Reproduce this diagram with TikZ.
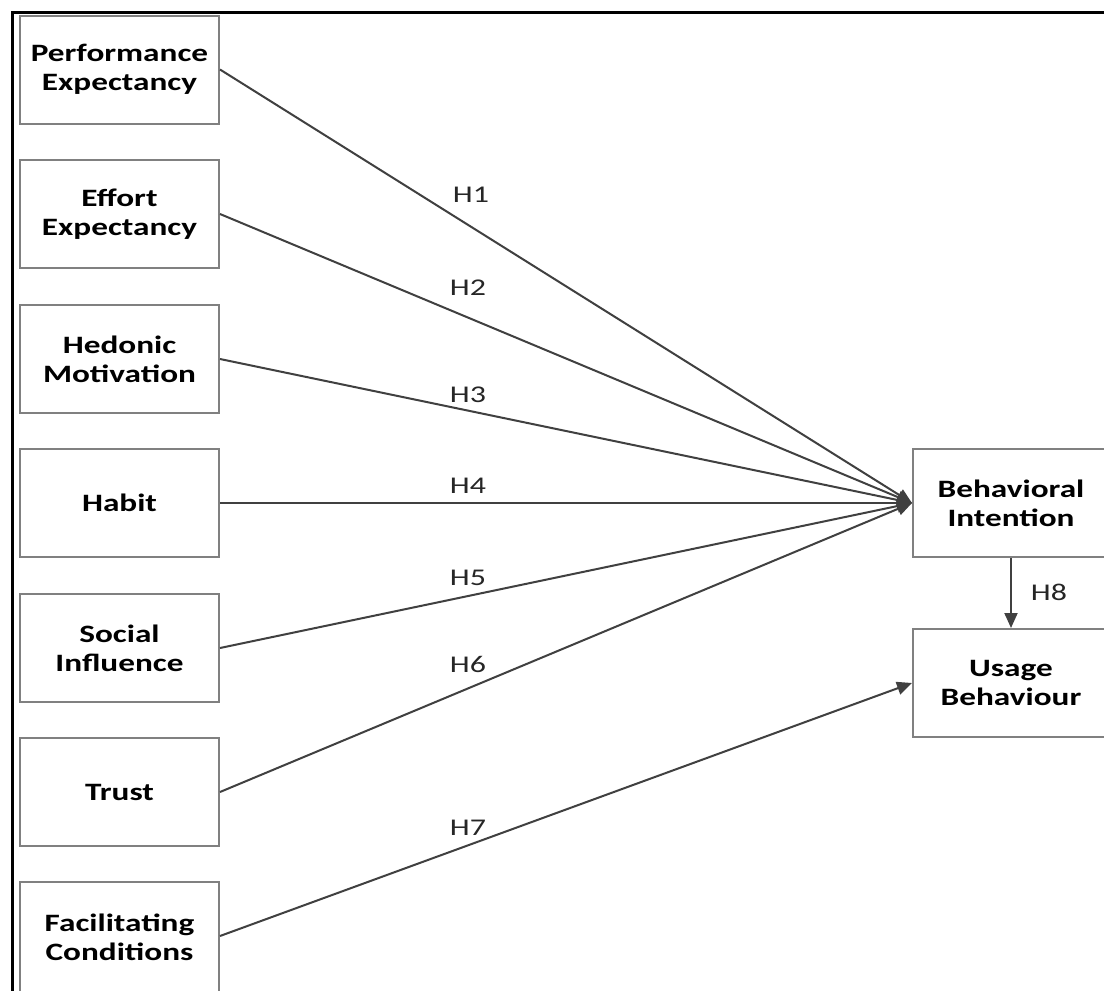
\documentclass[tikz,border=0pt]{standalone}
\usepackage{fontspec}
\setmainfont{Carlito}[FakeStretch=1.33]
\usetikzlibrary{arrows.meta}
\definecolor{boxgray}{HTML}{808080}
\definecolor{linegray}{HTML}{404040}
\begin{document}
\begin{tikzpicture}[x=1pt,y=-1pt,
  cbox/.style={draw=boxgray,line width=2pt,fill=white,minimum width=199pt,minimum height=108pt,
    align=center,inner sep=0pt,font=\fontsize{25}{29}\selectfont\bfseries,text=black},
  rbox/.style={cbox,minimum width=196pt},
  conn/.style={draw=linegray,line width=2pt,-{Triangle[length=15pt,width=13pt]}},
  hlab/.style={font=\fontsize{24}{28}\selectfont,text=black!85,inner sep=0pt}]
\useasboundingbox (0,0) rectangle (1104,991);
\fill[white] (0,0) rectangle (1104,991);
% outer frame
\draw[black,line width=3pt] (12,995) -- (12,12) -- (1110,12);
% left boxes
\node[cbox] (pe) at (119.5,69.5) {Performance\\Expectancy};
\node[cbox] (ee) at (119.5,214) {Effort\\Expectancy};
\node[cbox] (hm) at (119.5,359) {Hedonic\\Motivation};
\node[cbox] (hb) at (119.5,503) {Habit};
\node[cbox] (si) at (119.5,648) {Social\\Influence};
\node[cbox] (tr) at (119.5,792) {Trust};
\node[cbox,minimum height=116pt] (fc) at (119.5,940) {\raisebox{4pt}{\begin{tabular}{@{}c@{}}Facilitating\\Conditions\end{tabular}}};
% right boxes
\node[rbox] (bi) at (1011,503) {Behavioral\\Intention};
\node[rbox] (ub) at (1011,683) {Usage\\Behaviour};
% connectors
\draw[conn] (pe.east) -- (bi.west);
\draw[conn] (ee.east) -- (bi.west);
\draw[conn] (hm.east) -- (bi.west);
\draw[conn] (hb.east) -- (bi.west);
\draw[conn] (si.east) -- (bi.west);
\draw[conn] (tr.east) -- (bi.west);
\draw[conn] ([yshift=4pt]fc.east) -- (ub.west);
\draw[conn] (bi.south) -- (ub.north);
% labels
\node[hlab] (h1) at (471,195) {H1};
\node[hlab] (h2) at (468,288) {H2};
\node[hlab] (h3) at (468,395) {H3};
\node[hlab] (h4) at (468,486) {H4};
\node[hlab] (h5) at (468,578) {H5};
\node[hlab] (h6) at (468,664) {H6};
\node[hlab] (h7) at (468,828) {H7};
\node[hlab] (h8) at (1049,592) {H8};
\end{tikzpicture}
\end{document}
